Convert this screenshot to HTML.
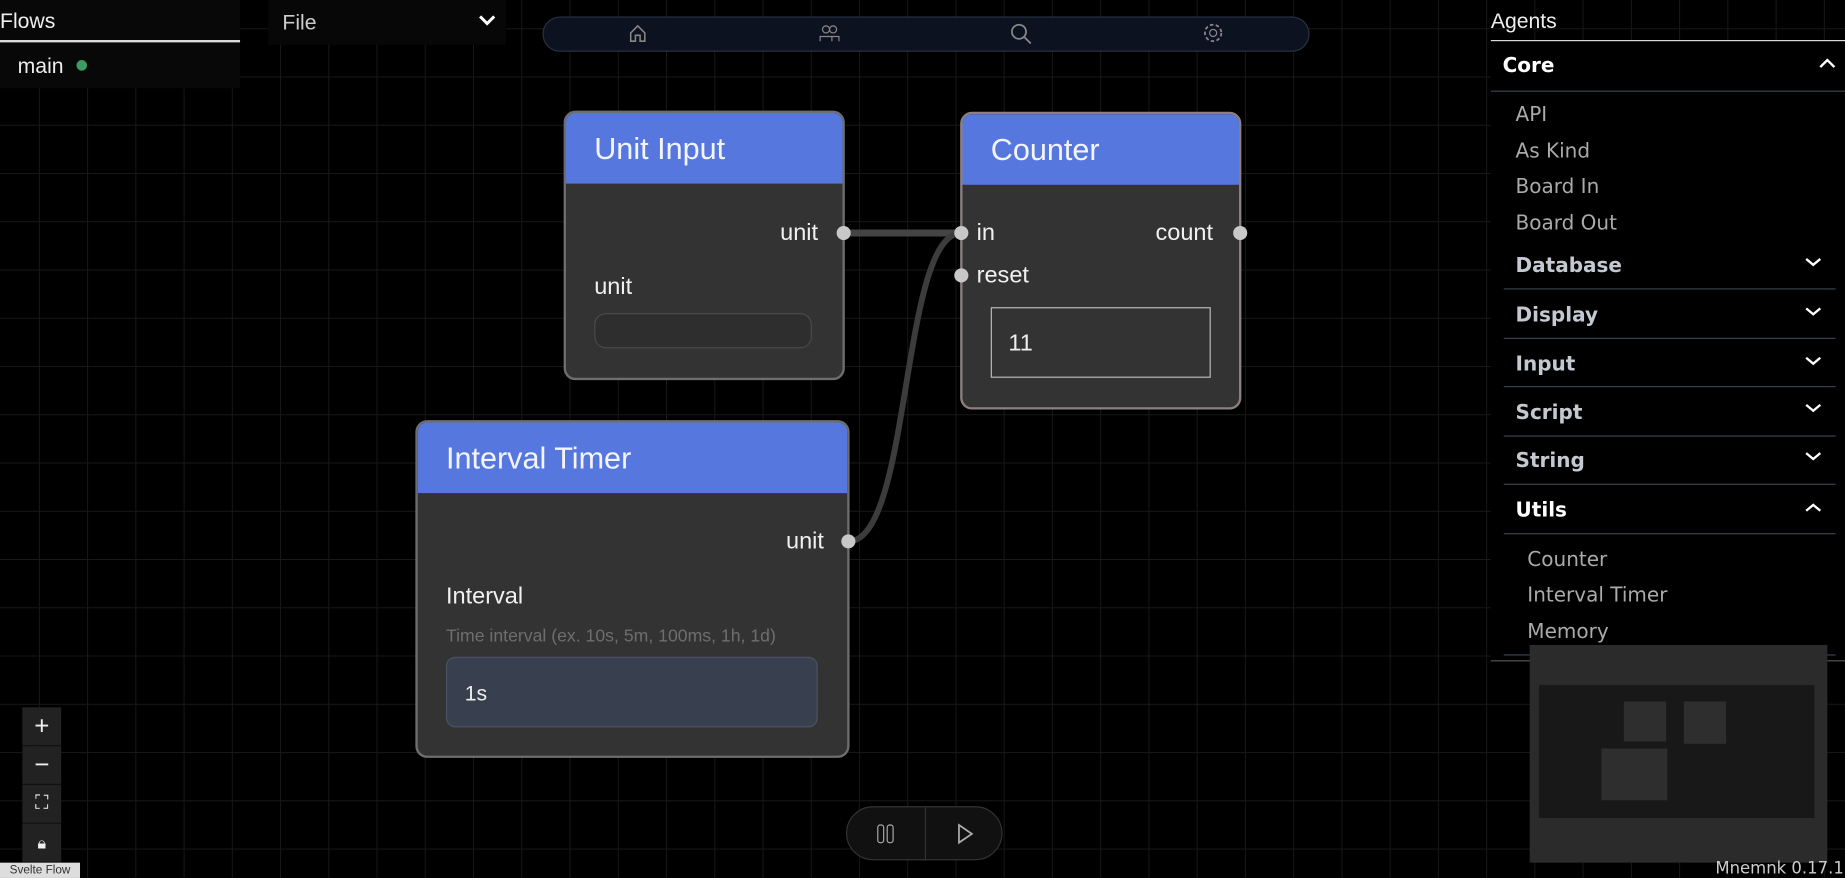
<!DOCTYPE html>
<html><head><meta charset="utf-8"><style>
html,body{margin:0;padding:0;background:#000;overflow:hidden;width:1845px;height:878px}
#s{position:absolute;left:0;top:0;width:1568px;height:746px;transform:scale(1.17666,1.1769);transform-origin:0 0;font-family:"Liberation Sans",sans-serif;color:#eee;
background-color:#000;background-image:linear-gradient(#181818 1px,transparent 1px),linear-gradient(90deg,#181818 1px,transparent 1px);background-size:41px 41px;background-position:33px 24px}
.a{position:absolute}
.node{position:absolute;background:#333;border:2px solid #6e6e6e;border-radius:10px;overflow:hidden;box-sizing:border-box}
.hd{background:#5577de;color:#f4f4ff;font-size:26px;padding-left:24px;box-sizing:border-box}
.h{position:absolute;width:12px;height:12px;border-radius:50%;background:#c8c8c8;margin:-6px 0 0 -6px}
.lbl{position:absolute;font-size:20px;color:#f0f0f0;line-height:20px}
.r{font-family:"DejaVu Sans",sans-serif;position:absolute;font-size:17px;line-height:20px}
.ln{position:absolute;height:1px;background:#3a4250}
.cb{position:absolute;left:0;width:33px;height:32px;background:#222;border-bottom:1px solid #111;color:#eee;text-align:center;font-size:22px;line-height:32px}
</style></head><body><div id="s">
<div class="a" style="left:0;top:0;width:204px;height:75px;background:#080808"></div>
<div class="a" style="left:0;top:8px;font-size:18px">Flows</div>
<div class="a" style="left:0;top:34px;width:204px;height:2px;background:#ddd"></div>
<div class="a" style="left:15px;top:46px;font-size:18px">main</div>
<div class="a" style="left:65px;top:51px;width:9px;height:9px;border-radius:50%;background:#3d9a60"></div>
<div class="a" style="left:228px;top:0;width:202px;height:38px;background:#070707"></div>
<div class="a" style="left:240px;top:9px;font-size:18px;color:#ccc">File</div>
<svg class="a" style="left:406px;top:11px" width="16" height="12"><path d="M2 3 L8 9 L14 3" stroke="#fff" stroke-width="2.5" fill="none"/></svg>
<div class="a" style="left:461px;top:14px;width:650px;height:28px;border:1px solid #2a3242;border-radius:15px;background:#0c1220"></div>
<svg class="a" style="left:534px;top:20px" width="16" height="17"><path d="M2 8 L8 2 L14 8 V15 H10 V10 H6 V15 H2 Z" stroke="#888" fill="none" stroke-width="1.3"/></svg>
<svg class="a" style="left:696px;top:20px" width="18" height="17"><circle cx="6" cy="5" r="3" stroke="#888" fill="none"/><circle cx="12" cy="5" r="3" stroke="#888" fill="none"/><path d="M1 15 V11 H11 V15 M9 11 H17 V15" stroke="#888" fill="none"/></svg>
<svg class="a" style="left:858px;top:19px" width="20" height="20"><circle cx="8" cy="8" r="6" stroke="#888" fill="none" stroke-width="1.5"/><path d="M12 12 L18 18" stroke="#888" stroke-width="1.5"/></svg>
<svg class="a" style="left:1022px;top:19px" width="18" height="18"><circle cx="9" cy="9" r="7" stroke="#888" fill="none" stroke-width="1.5" stroke-dasharray="3 2"/><circle cx="9" cy="9" r="3" stroke="#888" fill="none"/></svg>
<svg class="a" style="left:0;top:0" width="1568" height="746"><path d="M717 198 L817 198" stroke="#444" stroke-width="6" fill="none"/><path d="M721 460 C775 460,765 198,817 198" stroke="#3c3c3c" stroke-width="5" fill="none"/></svg>
<div class="node" style="left:479px;top:94px;width:239px;height:229px"><div class="hd" style="height:60px;line-height:60px">Unit Input</div></div>
<div class="lbl" style="left:663px;top:188px">unit</div>
<div class="lbl" style="left:505px;top:234px">unit</div>
<div class="a" style="left:505px;top:266px;width:185px;height:30px;border:1px solid #4a4a4a;border-radius:10px;box-sizing:border-box;background:#2e2e2e"></div>
<div class="h" style="left:717px;top:198px"></div>
<div class="node" style="left:816px;top:95px;width:239px;height:253px;border-color:#8d7f7f"><div class="hd" style="height:60px;line-height:60px">Counter</div></div>
<div class="lbl" style="left:830px;top:188px">in</div>
<div class="lbl" style="left:830px;top:224px">reset</div>
<div class="lbl" style="left:982px;top:188px">count</div>
<div class="a" style="left:842px;top:261px;width:187px;height:60px;border:1px solid #bbb;box-sizing:border-box;font-size:20px;line-height:60px;padding-left:14px">11</div>
<div class="h" style="left:817px;top:198px"></div><div class="h" style="left:817px;top:234px"></div><div class="h" style="left:1054px;top:198px"></div>
<div class="node" style="left:353px;top:357px;width:369px;height:287px"><div class="hd" style="height:60px;line-height:60px">Interval Timer</div></div>
<div class="lbl" style="left:668px;top:450px">unit</div>
<div class="lbl" style="left:379px;top:497px">Interval</div>
<div class="a" style="left:379px;top:532px;font-size:15px;color:#6e6e6e">Time interval (ex. 10s, 5m, 100ms, 1h, 1d)</div>
<div class="a" style="left:379px;top:558px;width:316px;height:60px;background:#384050;border:1px solid #4a5264;border-radius:8px;box-sizing:border-box;font-size:18px;line-height:60px;padding-left:15px">1s</div>
<div class="h" style="left:721px;top:460px"></div>
<div class="a" style="left:19px;top:601px;width:33px;height:132px">
<div class="cb" style="top:0">+</div><div class="cb" style="top:33px">−</div>
<div class="cb" style="top:66px;font-size:16px">⛶</div><div class="cb" style="top:99px;font-size:14px">🔒︎</div></div>
<div class="a" style="left:0;top:733px;width:68px;height:13px;background:#ddd;color:#333;font-size:10px;line-height:13px;text-align:center">Svelte Flow</div>
<div class="a" style="left:719px;top:685px;width:133px;height:46px;background:#111;border:1px solid #333;border-radius:23px;box-sizing:border-box"></div>
<div class="a" style="left:786px;top:686px;width:1px;height:45px;background:#333"></div>
<svg class="a" style="left:744px;top:699px" width="20" height="20"><rect x="2" y="2" width="5" height="15" rx="2" stroke="#aaa" fill="none"/><rect x="10" y="2" width="5" height="15" rx="2" stroke="#aaa" fill="none"/></svg>
<svg class="a" style="left:811px;top:699px" width="20" height="20"><path d="M4 2 L15 9.5 L4 17 Z" stroke="#aaa" fill="none" stroke-width="1.5"/></svg>
<div class="a" style="left:1267px;top:34px;width:301px;height:527px;background:#000"></div>
<div class="a" style="left:1267px;top:8px;font-size:18px">Agents</div>
<div class="a" style="left:1267px;top:34px;width:301px;height:1px;background:#ddd"></div>
<div class="r" style="left:1277px;top:46px;font-weight:bold;color:#fff">Core</div>
<svg class="a" style="left:1545px;top:49px" width="16" height="10"><path d="M2 8 L8 2 L14 8" stroke="#fff" stroke-width="2" fill="none"/></svg>
<div class="ln" style="left:1267px;top:77px;width:301px"></div>
<div class="r" style="left:1288px;top:88px;color:#aaa">API</div>
<div class="r" style="left:1288px;top:119px;color:#aaa">As Kind</div>
<div class="r" style="left:1288px;top:149px;color:#aaa">Board In</div>
<div class="r" style="left:1288px;top:180px;color:#aaa">Board Out</div>
<div class="r" style="left:1288px;top:216px;font-weight:bold;color:#c4c8d0">Database</div><div class="ln" style="left:1278px;top:245px;width:282px"></div>
<div class="r" style="left:1288px;top:258px;font-weight:bold;color:#c4c8d0">Display</div><div class="ln" style="left:1278px;top:287px;width:282px"></div>
<div class="r" style="left:1288px;top:300px;font-weight:bold;color:#c4c8d0">Input</div><div class="ln" style="left:1278px;top:328px;width:282px"></div>
<div class="r" style="left:1288px;top:341px;font-weight:bold;color:#c4c8d0">Script</div><div class="ln" style="left:1278px;top:370px;width:282px"></div>
<div class="r" style="left:1288px;top:382px;font-weight:bold;color:#c4c8d0">String</div><div class="ln" style="left:1278px;top:411px;width:282px"></div>
<div class="r" style="left:1288px;top:424px;font-weight:bold;color:#fff">Utils</div><div class="ln" style="left:1278px;top:453px;width:282px"></div>
<svg class="a" style="left:1533px;top:218px" width="16" height="96"><g stroke="#fff" stroke-width="2" fill="none"><path d="M2 2 L8 7 L14 2"/><path d="M2 44 L8 49 L14 44"/><path d="M2 86 L8 91 L14 86"/></g></svg>
<svg class="a" style="left:1533px;top:342px" width="16" height="96"><g stroke="#fff" stroke-width="2" fill="none"><path d="M2 2 L8 7 L14 2"/><path d="M2 43 L8 48 L14 43"/><path d="M2 92 L8 87 L14 92"/></g></svg>
<div class="r" style="left:1298px;top:466px;color:#aaa">Counter</div>
<div class="r" style="left:1298px;top:496px;color:#aaa">Interval Timer</div>
<div class="r" style="left:1298px;top:527px;color:#aaa">Memory</div>
<div class="ln" style="left:1278px;top:556px;width:282px"></div>
<div class="a" style="left:1267px;top:561px;width:301px;height:1px;background:#555"></div>
<div class="a" style="left:1300px;top:548px;width:253px;height:185px;background:#2b2b2b"></div>
<div class="a" style="left:1308px;top:582px;width:234px;height:113px;background:#181818"></div>
<div class="a" style="left:1380px;top:596px;width:36px;height:34px;background:#2e2e2e"></div>
<div class="a" style="left:1431px;top:596px;width:36px;height:36px;background:#2e2e2e"></div>
<div class="a" style="left:1361px;top:636px;width:56px;height:44px;background:#2e2e2e"></div>
<div class="a" style="right:1px;top:730px;font-size:14px;color:#ccc;font-family:'DejaVu Sans',sans-serif;white-space:nowrap">Mnemnk 0.17.1</div>
</div></body></html>
